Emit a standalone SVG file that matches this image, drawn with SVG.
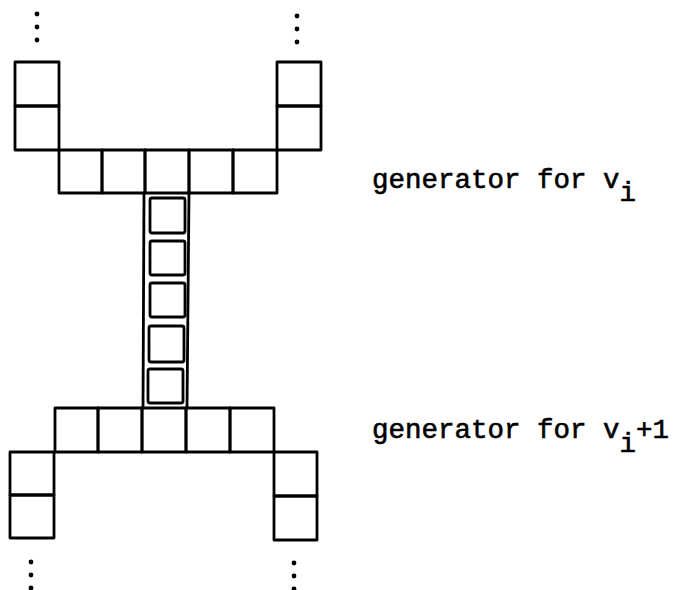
<svg xmlns="http://www.w3.org/2000/svg" width="680" height="590" viewBox="0 0 680 590">
<style>
.c{fill:none;stroke:#000;stroke-width:2.8;stroke-linejoin:round}
.in{fill:none;stroke:#000;stroke-width:2.8;stroke-linejoin:round}
.d{fill:#000}
.t{font-family:"Liberation Mono","Courier New",monospace;font-size:27.5px;fill:#000;stroke:#000;stroke-width:0.6}
</style>
<rect width="680" height="590" fill="#fff"/>
<g id="dots-top">
<circle class="d" cx="37" cy="14" r="2.4"/><circle class="d" cx="37" cy="27" r="2.4"/><circle class="d" cx="37" cy="40" r="2.4"/>
<circle class="d" cx="297" cy="16" r="2.4"/><circle class="d" cx="297" cy="29" r="2.4"/><circle class="d" cx="297" cy="42" r="2.4"/>
</g>
<g id="generator-top">
<rect class="c" x="15" y="62" width="44" height="44"/>
<rect class="c" x="15" y="106" width="44" height="44"/>
<rect class="c" x="59" y="150" width="43" height="43"/>
<rect class="c" x="102" y="150" width="43" height="43"/>
<rect class="c" x="145" y="150" width="44" height="43"/>
<rect class="c" x="189" y="150" width="44" height="43"/>
<rect class="c" x="233" y="150" width="44" height="43"/>
<rect class="c" x="277" y="62" width="44" height="44"/>
<rect class="c" x="277" y="106" width="44" height="44"/>
</g>
<g id="chain">
<line class="c" x1="144" y1="193" x2="143" y2="408"/>
<line class="c" x1="189" y1="193" x2="187" y2="408"/>
<rect class="in" x="150" y="198" width="35" height="35" rx="2"/>
<rect class="in" x="150" y="241" width="35" height="34" rx="2"/>
<rect class="in" x="150" y="283" width="35" height="34" rx="2"/>
<rect class="in" x="149" y="326" width="35" height="36" rx="2"/>
<rect class="in" x="148" y="369" width="35" height="34" rx="2"/>
</g>
<g id="generator-bottom">
<rect class="c" x="55" y="408" width="43" height="44"/>
<rect class="c" x="98" y="408" width="44" height="44"/>
<rect class="c" x="142" y="408" width="44" height="44"/>
<rect class="c" x="186" y="408" width="44" height="44"/>
<rect class="c" x="230" y="408" width="44" height="44"/>
<rect class="c" x="10" y="452" width="44" height="43"/>
<rect class="c" x="10" y="495" width="44" height="43"/>
<rect class="c" x="274" y="452" width="43" height="44"/>
<rect class="c" x="274" y="496" width="43" height="44"/>
</g>
<g id="dots-bottom">
<circle class="d" cx="31" cy="562" r="2.4"/><circle class="d" cx="31" cy="575" r="2.4"/><circle class="d" cx="31" cy="588" r="2.4"/>
<circle class="d" cx="294" cy="563" r="2.4"/><circle class="d" cx="294" cy="576" r="2.4"/><circle class="d" cx="294" cy="589" r="2.4"/>
</g>
<g id="labels">
<text class="t" x="372" y="188">generator for v<tspan dy="13">i</tspan></text>
<text class="t" x="372" y="438">generator for v<tspan dy="14">i</tspan><tspan dy="-14">+1</tspan></text>
</g>
</svg>
